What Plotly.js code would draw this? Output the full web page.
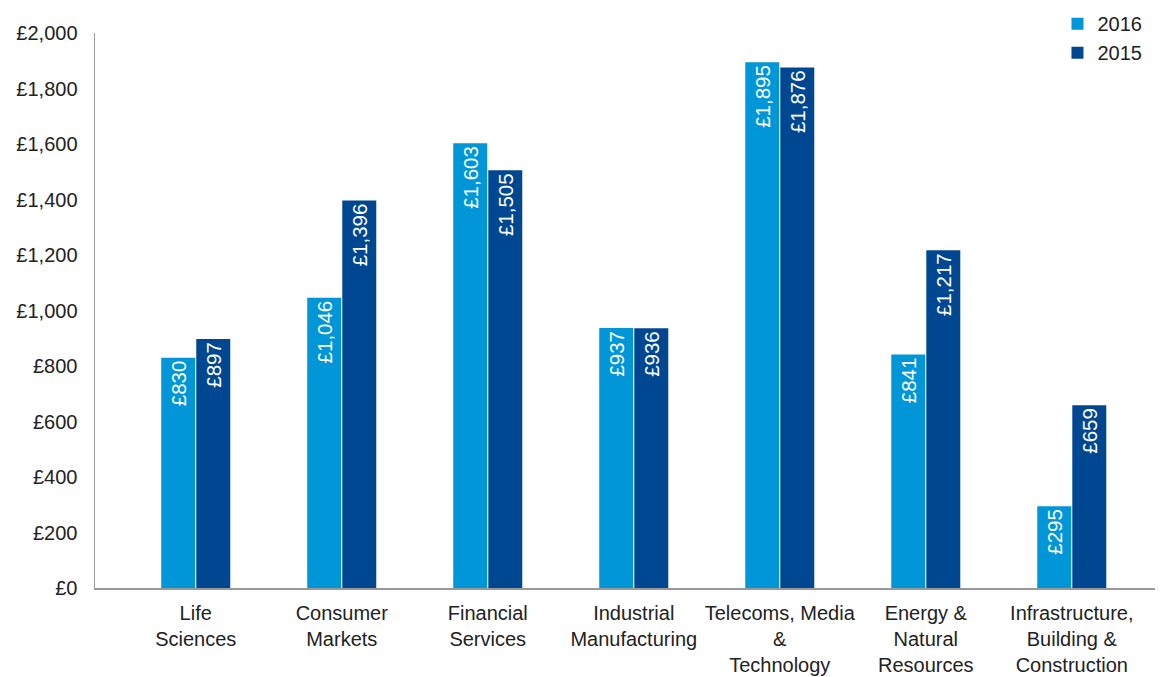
<!DOCTYPE html>
<html>
<head>
<meta charset="utf-8">
<script src="https://cdn.plot.ly/plotly-3.0.1.min.js"></script>
<style>html,body{margin:0;padding:0;background:#fff;}#chart{width:1163px;height:677px;}</style>
</head>
<body>
<div id="chart"></div>
<script>
const categories = ["Life<br>Sciences", "Consumer<br>Markets", "Financial<br>Services", "Industrial<br>Manufacturing", "Telecoms, Media<br>&<br>Technology", "Energy &<br>Natural<br>Resources", "Infrastructure,<br>Building &<br>Construction"];
const values2016 = [830, 1046, 1603, 937, 1895, 841, 295];
const values2015 = [897, 1396, 1505, 936, 1876, 1217, 659];
const yTickVals = [0, 200, 400, 600, 800, 1000, 1200, 1400, 1600, 1800, 2000];
const yTickText = ["£0", "£200", "£400", "£600", "£800", "£1,000", "£1,200", "£1,400", "£1,600", "£1,800", "£2,000"];

const font = "Liberation Sans, Arial, sans-serif";
function barTrace(name, vals, color) {
  return {
    type: "bar", name: name, x: categories, y: vals,
    marker: {color: color},
    texttemplate: "£%{y:,}",
    textposition: "inside",
    insidetextanchor: "end",
    textangle: -90,
    textfont: {family: font, size: 20.5, color: "#ffffff"},
    constraintext: "none",
    hoverinfo: "x+y"
  };
}
const data = [
  barTrace("2016", values2016, "#0096D8"),
  barTrace("2015", values2015, "#004792")
];
const layout = {
  width: 1163, height: 677,
  margin: {l: 95, r: 8, t: 33, b: 89, autoexpand: false},
  paper_bgcolor: "#fff", plot_bgcolor: "#fff",
  barmode: "group", bargap: 0.52, bargroupgap: 0.03,
  font: {family: font, size: 20, color: "#222"},
  showlegend: true,
  legend: {x: 0.908, y: 1.052, xanchor: "left", yanchor: "top", font: {size: 20, color: "#222"}, tracegroupgap: 0, itemwidth: 30},
  xaxis: {
    type: "category", range: [-0.69, 6.57],
    showline: true, linecolor: "#999", linewidth: 1.5,
    showgrid: false, zeroline: false, ticks: "",
    ticklabelstandoff: 6,
    tickfont: {size: 20, color: "#222"}, fixedrange: true
  },
  yaxis: {
    range: [0, 2000], tickvals: yTickVals, ticktext: yTickText,
    showline: true, linecolor: "#999", linewidth: 1.5,
    showgrid: false, zeroline: false,
    ticks: "outside", ticklen: 12, tickcolor: "rgba(0,0,0,0)",
    tickfont: {size: 20, color: "#222"}, fixedrange: true
  }
};
Plotly.newPlot("chart", data, layout, {displayModeBar: false, staticPlot: true});
</script>
</body>
</html>
